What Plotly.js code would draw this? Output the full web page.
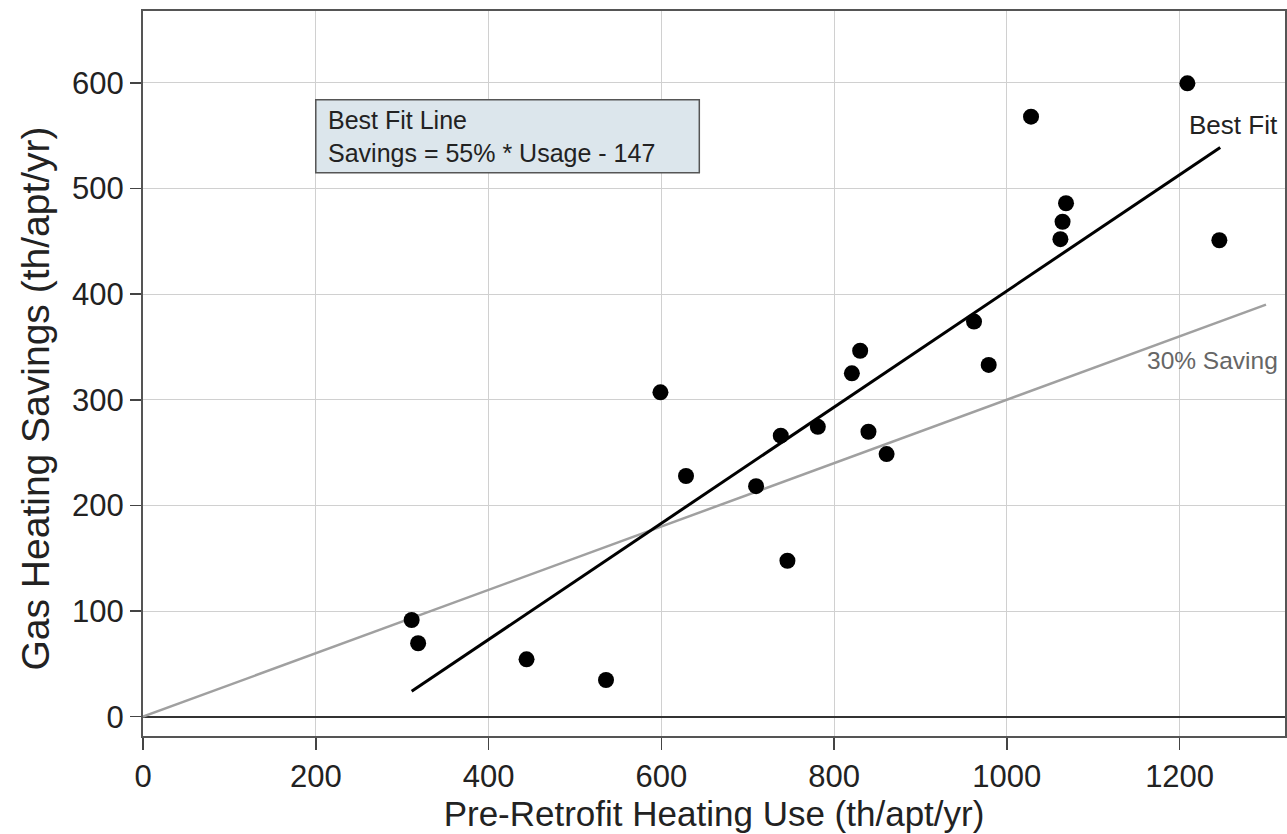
<!DOCTYPE html>
<html>
<head>
<meta charset="utf-8">
<script src="https://cdn.plot.ly/plotly-3.0.1.min.js"></script>
<style>html,body{margin:0;padding:0;background:#fff;} #chart{width:1287px;height:834px;}</style>
</head>
<body>
<div id="chart"></div>
<script>
// Pre-retrofit heating use (th/apt/yr)
const usage = [311, 318.5, 444, 536, 599, 628.6, 709.7, 738.3, 746, 781.2, 820.6, 830.2, 839.8, 860.8, 962, 979, 1028, 1062, 1064.5, 1068.5, 1209, 1246];
// Gas heating savings (th/apt/yr)
const savings = [91.5, 69.5, 54.3, 34.7, 307, 227.8, 218.2, 266, 147.6, 274.4, 325, 346.4, 269.7, 248.6, 374, 333, 568, 452, 468.5, 486, 599.5, 451];
// Best fit: Savings = 55% * Usage - 147
const fitSlope = 0.55;
const fitIntercept = -147;
const fitX = [311, 1247];
// 30% saving reference line
const refSlope = 0.30;
const refX = [0, 1300];

const xTicks = [0, 200, 400, 600, 800, 1000, 1200];
const yTicks = [0, 100, 200, 300, 400, 500, 600];

const FONT = "Liberation Sans, Arial, Helvetica, sans-serif";

const traces = [
  {
    x: refX, y: refX.map(v => v * refSlope),
    mode: 'lines', line: {color: '#a0a0a0', width: 2.5},
    hoverinfo: 'skip', showlegend: false
  },
  {
    x: fitX, y: fitX.map(v => v * fitSlope + fitIntercept),
    mode: 'lines', line: {color: '#000000', width: 3},
    hoverinfo: 'skip', showlegend: false
  },
  {
    x: usage, y: savings,
    mode: 'markers', marker: {color: '#000000', size: 16},
    showlegend: false
  }
];

const layout = {
  width: 1287, height: 834,
  margin: {l: 143, r: 2, t: 11, b: 98},
  paper_bgcolor: '#ffffff', plot_bgcolor: '#ffffff',
  font: {family: FONT, color: '#222222'},
  showlegend: false,
  xaxis: {
    range: [0, 1322],
    tickvals: xTicks,
    ticks: 'outside', ticklen: 12, tickwidth: 1.5, tickcolor: '#444',
    tickfont: {size: 31, color: '#222'},
    showgrid: true, gridcolor: '#d0d0d0', gridwidth: 1,
    zeroline: false,
    showline: true, linecolor: '#555', linewidth: 2, mirror: true,
    title: {text: 'Pre-Retrofit Heating Use (th/apt/yr)', font: {size: 35, color: '#222'}, standoff: 6}
  },
  yaxis: {
    range: [-18.3, 668],
    tickvals: yTicks,
    ticks: 'outside', ticklen: 11, tickwidth: 1.5, tickcolor: '#444',
    tickfont: {size: 31, color: '#222'},
    showgrid: true, gridcolor: '#d0d0d0', gridwidth: 1,
    zeroline: true, zerolinecolor: '#333', zerolinewidth: 2,
    showline: true, linecolor: '#555', linewidth: 2, mirror: true
  },
  shapes: [
    {type: 'rect', xref: 'x', yref: 'y', x0: 200, x1: 644, y0: 515, y1: 584,
     fillcolor: '#dce6ec', line: {color: '#555', width: 1.5}, layer: 'above'}
  ],
  annotations: [
    {x: 212, y: 549.5, xref: 'x', yref: 'y', text: 'Best Fit Line<br>Savings = 55% * Usage - 147', showarrow: false,
     xanchor: 'left', yanchor: 'middle', align: 'left', font: {size: 25, color: '#222'}},
    {x: 1316, y: 560, xref: 'x', yref: 'y', text: 'Best Fit', showarrow: false,
     xanchor: 'right', yanchor: 'middle', font: {size: 26, color: '#222'}},
    {x: 1316, y: 337, xref: 'x', yref: 'y', text: '30% Saving', showarrow: false,
     xanchor: 'right', yanchor: 'middle', font: {size: 24.5, color: '#666'}},
    {x: -0.094, y: 0.465, xref: 'paper', yref: 'paper', text: 'Gas Heating Savings (th/apt/yr)', showarrow: false,
     textangle: -90, xanchor: 'center', yanchor: 'middle', font: {size: 39, color: '#222'}}
  ]
};

Plotly.newPlot('chart', traces, layout, {displayModeBar: false, staticPlot: true});
</script>
</body>
</html>
